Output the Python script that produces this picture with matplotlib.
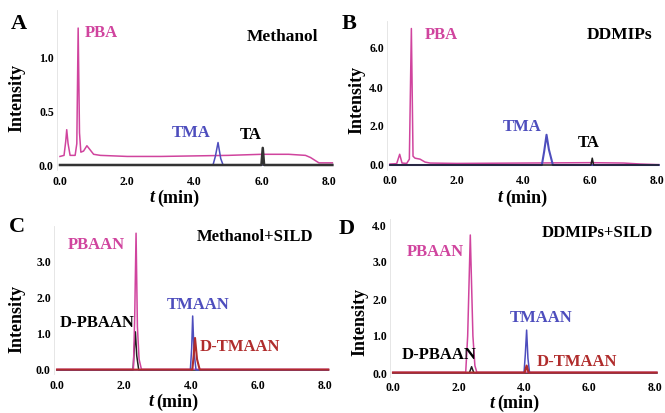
import matplotlib
matplotlib.use("Agg")
import matplotlib.pyplot as plt

plt.rcParams['font.family'] = ['Liberation Serif', 'DejaVu Serif']
plt.rcParams['font.weight'] = 'bold'

PINK = '#d0449e'
BLUE = '#4d4dbd'
RED = '#b02c2c'
BLACK = '#1e1e1e'

# ---- panel A: Methanol ----
a_pink_t = [0.0, 0.12, 0.17, 0.2, 0.24, 0.3, 0.45, 0.5, 0.54, 0.58, 0.62, 0.7, 0.8, 0.9, 1.0, 1.2,
            2.0, 3.0, 4.0, 5.0, 6.0, 6.8, 7.3, 7.45, 7.6, 7.7, 8.1]
a_pink_y = [0.08, 0.09, 0.22, 0.33, 0.2, 0.09, 0.09, 0.2, 1.28, 0.3, 0.12, 0.13, 0.18, 0.14, 0.1, 0.09,
            0.08, 0.08, 0.085, 0.09, 0.1, 0.1, 0.09, 0.07, 0.04, 0.02, 0.02]
a_blue_t = [0.0, 4.55, 4.62, 4.7, 4.78, 4.85, 8.1]
a_blue_y = [0.0, 0.0, 0.08, 0.21, 0.06, 0.0, 0.0]
a_black_t = [0.0, 5.99, 6.03, 6.07, 8.1]
a_black_y = [0.0, 0.0, 0.16, 0.0, 0.0]

# ---- panel B: DDMIPs ----
b_pink_t = [0.0, 0.2, 0.29, 0.36, 0.5, 0.58, 0.64, 0.69, 0.75, 0.9, 1.05, 1.2, 2.0, 4.0, 6.0, 7.0, 7.5, 8.0, 8.05]
b_pink_y = [0.05, 0.07, 0.55, 0.1, 0.08, 0.3, 7.0, 0.45, 0.35, 0.3, 0.15, 0.1, 0.08, 0.1, 0.12, 0.1, 0.05, 0.02, 0.02]
b_blue_t = [0.0, 4.55, 4.62, 4.69, 4.76, 4.88, 8.05]
b_blue_y = [0.0, 0.0, 0.7, 1.55, 0.8, 0.0, 0.0]
b_black_t = [0.0, 6.02, 6.06, 6.1, 8.05]
b_black_y = [0.0, 0.0, 0.35, 0.0, 0.0]

# ---- panel C: Methanol+SILD ----
c_black_t = [0.0, 2.27, 2.3, 2.34, 2.38, 2.44, 8.1]
c_black_y = [0.0, 0.0, 0.5, 1.06, 0.4, 0.0, 0.0]
c_pink_t = [0.0, 2.28, 2.32, 2.36, 2.4, 2.45, 2.52, 8.1]
c_pink_y = [0.02, 0.02, 1.5, 3.8, 1.2, 0.3, 0.02, 0.02]
c_blue_t = [0.0, 3.98, 4.02, 4.05, 4.09, 4.15, 8.1]
c_blue_y = [0.0, 0.0, 0.6, 1.5, 0.5, 0.0, 0.0]
c_red_t = [0.0, 4.04, 4.08, 4.12, 4.18, 4.26, 8.1]
c_red_y = [0.01, 0.01, 0.4, 0.89, 0.3, 0.01, 0.01]

# ---- panel D: DDMIPs+SILD ----
d_pink_t = [0.0, 2.22, 2.28, 2.36, 2.44, 2.5, 2.56, 8.05]
d_pink_y = [0.02, 0.02, 1.0, 3.73, 1.0, 0.2, 0.02, 0.02]
d_black_t = [0.0, 2.33, 2.4, 2.47, 8.05]
d_black_y = [0.0, 0.0, 0.17, 0.0, 0.0]
d_blue_t = [0.0, 4.0, 4.04, 4.08, 4.12, 4.17, 8.05]
d_blue_y = [0.0, 0.0, 0.5, 1.16, 0.4, 0.0, 0.0]
d_red_t = [0.0, 4.02, 4.08, 4.14, 8.05]
d_red_y = [0.01, 0.01, 0.2, 0.01, 0.01]

x_ticks = [0.0, 2.0, 4.0, 6.0, 8.0]

W, H = 665, 413
fig = plt.figure(figsize=(W / 100, H / 100), dpi=100)
fig.patch.set_facecolor('white')


def make_axes(xref, yref, xlim, ylim):
    # xref/yref: two (value, pixel) pairs
    (xv0, xp0), (xv1, xp1) = xref
    (yv0, yp0), (yv1, yp1) = yref
    sx = (xp1 - xp0) / (xv1 - xv0)
    sy = (yp1 - yp0) / (yv1 - yv0)
    left = xp0 + (xlim[0] - xv0) * sx
    right = xp0 + (xlim[1] - xv0) * sx
    bottom = yp0 + (ylim[0] - yv0) * sy
    top = yp0 + (ylim[1] - yv0) * sy
    ax = fig.add_axes([left / W, 1 - bottom / H, (right - left) / W, (bottom - top) / H])
    ax.set_xlim(*xlim)
    ax.set_ylim(*ylim)
    for s in ax.spines.values():
        s.set_visible(False)
    ax.spines['left'].set_visible(True)
    ax.spines['left'].set_color('#e2e2e2')
    ax.spines['left'].set_linewidth(0.6)
    ax.set_xticks(x_ticks)
    ax.set_xticklabels([f'{v:.1f}' for v in x_ticks])
    ax.tick_params(length=0, labelsize=8.5, pad=2)
    ax.tick_params(axis='x', pad=4)
    return ax


def fig_text(px, py, s, **kw):
    fig.text(px / W, 1 - py / H, s, **kw)


def decorate(letter, lpos, ylab_pos, t_pos):
    fig_text(lpos[0], lpos[1], letter, fontsize=16, ha='left', va='center', color='black')
    fig_text(ylab_pos[0], ylab_pos[1], 'Intensity', fontsize=13, rotation=90,
             ha='center', va='center', color='black')
    fig_text(t_pos[0], t_pos[1], 't', fontsize=13, style='italic', ha='right', va='center')
    fig_text(t_pos[0] + 3, t_pos[1], '(min)', fontsize=13, ha='left', va='center')


def yticks(ax, vals):
    ax.set_yticks(vals)
    ax.set_yticklabels([f'{v:.1f}' for v in vals])


# A
ax = make_axes(((0, 60), (8, 329)), ((0, 165), (1, 58)), (-0.1, 8.25), (-0.05, 1.45))
yticks(ax, [0.0, 0.5, 1.0])
ax.plot(a_pink_t, a_pink_y, color=PINK, lw=1.1)
ax.plot(a_blue_t, a_blue_y, color=BLUE, lw=1.1)
ax.plot(a_black_t, a_black_y, color='#333333', lw=1.8)
ax.text(0.74, 1.23, 'PBA', color=PINK, fontsize=12, ha='left', va='center')
ax.text(7.68, 1.2, 'Methanol', color='black', fontsize=12.5, ha='right', va='center')
ax.text(3.33, 0.3, 'TMA', color=BLUE, fontsize=12, ha='left', va='center')
ax.text(5.36, 0.28, 'TA', color='black', fontsize=12, ha='left', va='center')
decorate('A', (11, 24), (17, 98), (154, 198))

# B
ax = make_axes(((0, 390), (8, 657)), ((0, 165), (6, 48)), (-0.1, 8.2), (-0.25, 7.4))
yticks(ax, [0.0, 2.0, 4.0, 6.0])
ax.plot(b_pink_t, b_pink_y, color=PINK, lw=1.1)
ax.plot(b_blue_t, b_blue_y, color=BLUE, lw=1.5)
ax.plot(b_black_t, b_black_y, color=BLACK, lw=1.1)
ax.text(1.03, 6.67, 'PBA', color=PINK, fontsize=12, ha='left', va='center')
ax.text(7.85, 6.67, 'DDMIPs', color='black', fontsize=12.5, ha='right', va='center')
ax.text(3.37, 1.95, 'TMA', color=BLUE, fontsize=12, ha='left', va='center')
ax.text(5.63, 1.13, 'TA', color='black', fontsize=12, ha='left', va='center')
decorate('B', (342, 24), (357, 100), (502, 198))

# C
ax = make_axes(((0, 57), (8, 325)), ((0, 370), (3, 262)), (-0.1, 8.2), (-0.12, 4.0))
yticks(ax, [0.0, 1.0, 2.0, 3.0])
ax.plot(c_black_t, c_black_y, color=BLACK, lw=1.1)
ax.plot(c_pink_t, c_pink_y, color=PINK, lw=1.1)
ax.plot(c_blue_t, c_blue_y, color=BLUE, lw=1.1)
ax.plot(c_red_t, c_red_y, color=RED, lw=1.5)
ax.text(0.33, 3.47, 'PBAAN', color=PINK, fontsize=12, ha='left', va='center')
ax.text(7.64, 3.69, 'Methanol+SILD', color='black', fontsize=12, ha='right', va='center')
ax.text(3.28, 1.8, 'TMAAN', color=BLUE, fontsize=12, ha='left', va='center')
ax.text(0.09, 1.3, 'D-PBAAN', color='black', fontsize=12, ha='left', va='center')
ax.text(4.27, 0.64, 'D-TMAAN', color=RED, fontsize=12, ha='left', va='center')
decorate('C', (9, 227), (17, 319), (153, 402))

# D
ax = make_axes(((0, 393), (8, 655)), ((0, 373), (4, 225)), (-0.1, 8.2), (-0.1, 4.15))
yticks(ax, [0.0, 1.0, 2.0, 3.0, 4.0])
ax.plot(d_black_t, d_black_y, color=BLACK, lw=1.1)
ax.plot(d_pink_t, d_pink_y, color=PINK, lw=1.1)
ax.plot(d_blue_t, d_blue_y, color=BLUE, lw=1.1)
ax.plot(d_red_t, d_red_y, color=RED, lw=1.6)
ax.text(0.42, 3.27, 'PBAAN', color=PINK, fontsize=12, ha='left', va='center')
ax.text(7.95, 3.78, 'DDMIPs+SILD', color='black', fontsize=12, ha='right', va='center')
ax.text(3.56, 1.49, 'TMAAN', color=BLUE, fontsize=12, ha='left', va='center')
ax.text(0.27, 0.49, 'D-PBAAN', color='black', fontsize=12, ha='left', va='center')
ax.text(4.4, 0.3, 'D-TMAAN', color=RED, fontsize=12, ha='left', va='center')
decorate('D', (339, 229), (360, 322), (494, 403))

fig.savefig('out.png', dpi=100, facecolor='white')
